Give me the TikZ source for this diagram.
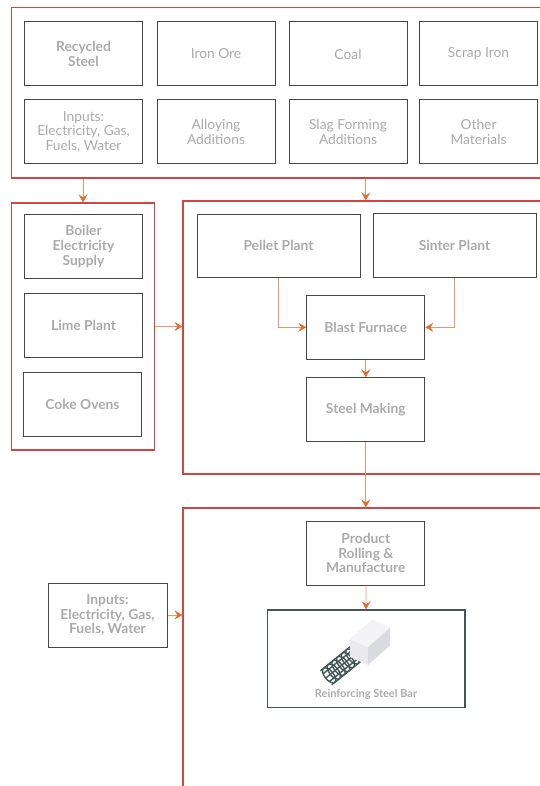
\documentclass[tikz,border=0pt]{standalone}
\usepackage{fontspec}
\setmainfont{Lato}
\usetikzlibrary{arrows.meta}
\definecolor{frred}{RGB}{210,70,66}
\definecolor{frorange}{RGB}{228,108,48}
\definecolor{frline}{RGB}{234,150,108}
\definecolor{frgray}{RGB}{170,170,170}
\definecolor{frbox}{RGB}{70,70,70}
\definecolor{frslate}{RGB}{70,82,92}
\definecolor{frrebar}{RGB}{68,86,86}
\definecolor{frtop}{RGB}{244,244,246}
\definecolor{frend}{RGB}{234,234,238}
\definecolor{frside}{RGB}{218,218,225}

\begin{document}
\begin{tikzpicture}[x=1pt, y=-1pt,
  group/.style={draw=frred, line width=1.1pt, inner sep=0pt},
  unit/.style={draw=frbox, line width=1pt, text=frgray, align=center,
    font=\fontsize{13.8}{14.6}\selectfont\bfseries,
    minimum width=118pt, minimum height=64pt, inner sep=0pt},
  unitlight/.style={unit, font=\fontsize{13.8}{14.6}\selectfont},
  arr/.style={frline, line width=0.8pt,
    -{Stealth[length=8pt, width=9pt, inset=3pt, color=frorange]}}]
\useasboundingbox (0,0) rectangle (539,786);
% Groups
\node[group, minimum width=534pt, minimum height=170.5pt] (inputs) at (278.5,92.75) {};
\node[group, minimum width=143pt, minimum height=247pt] (aux) at (83,326.5) {};
\node[group, minimum width=362pt, minimum height=273pt] (iron) at (364,337.5) {};
\node[group, minimum width=362pt, minimum height=292pt] (finish) at (364,654) {};
% Top: raw inputs
\node[unit] (recycled) at (83.5,54) {Recycled\\Steel};
\node[unitlight] (ore) at (216,54) {Iron Ore};
\node[unitlight] (coal) at (348,54) {Coal};
\node[unitlight] (scrap) at (478.5,54) {Scrap Iron};
\node[unitlight] (energy) at (83.5,131.7) {Inputs:\\Electricity, Gas,\\Fuels, Water};
\node[unitlight] (alloy) at (216,131.7) {Alloying\\Additions};
\node[unitlight] (slag) at (348,131.7) {Slag Forming\\Additions};
\node[unitlight] (other) at (478.5,131.7) {Other\\Materials};
\draw[arr] (aux.north |- inputs.south) -- (aux.north);
\draw[arr] (365.8,0 |- inputs.south) -- (365.8,0 |- iron.north);
% Left: support plants
\node[unit] (boiler) at (83.5,246.5) {Boiler\\Electricity\\Supply};
\node[unit] (lime) at (83.5,325.5) {Lime Plant};
\node[unit] (coke) at (82.5,404.5) {Coke Ovens};
\draw[arr] (aux.east) -- (aux.east -| iron.west);
% Right: iron and steel
\node[unit, minimum width=163pt, minimum height=63pt] (pellet) at (278.5,245.8) {Pellet Plant};
\node[unit, minimum width=163pt] (sinter) at (454.5,245.7) {Sinter Plant};
\node[unit] (blast) at (365.8,327.3) {Blast Furnace};
\node[unit] (steel) at (365.8,409.8) {Steel Making};
\draw[arr] (pellet.south) |- (blast.west);
\draw[arr] (sinter.south) |- (blast.east);
\draw[arr] (blast) -- (steel);
\draw[arr] (steel.south) -- (steel.south |- finish.north);
% Bottom: finishing
\node[unit] (product) at (365.8,553.2) {Product\\Rolling \&\\Manufacture};
\node[unit, minimum width=119pt] (utilities) at (107.5,615) {Inputs:\\Electricity, Gas,\\Fuels, Water};
\node[draw=frslate, line width=1.4pt, minimum width=197.5pt, minimum height=97.7pt,
  inner sep=0pt] (rebar) at (366.3,658.8) {};
\node[text=frgray, font=\fontsize{11}{12}\selectfont\bfseries] (rebarlabel) at (366,694) {Reinforcing Steel Bar};
\draw[arr] (product) -- (rebar);
\draw[arr] (utilities.east) -- (utilities.east -| finish.west);
% Rebar icon
\begin{scope}[shift={(358,652)}, x={(0.78pt,0.63pt)}, y={(-0.63pt,0.78pt)},
  frrebar, line width=1.4pt]
  \foreach \p in {-37,-31,...,-1}
    \draw (\p,0) ellipse [x radius=4.5, y radius=9];
  \foreach \q in {-9,-5,0,5,9}
    \draw (-41,\q) -- (0,\q);
\end{scope}
\fill[frend] (350,639) -- (368,647) -- (368,665) -- (350,657) -- cycle;
\fill[frside] (368,647) -- (390,627.5) -- (390,645.5) -- (368,665) -- cycle;
\fill[frtop] (350,639) -- (368,647) -- (390,627.5) -- (372,619.5) -- cycle;
\end{tikzpicture}
\end{document}
